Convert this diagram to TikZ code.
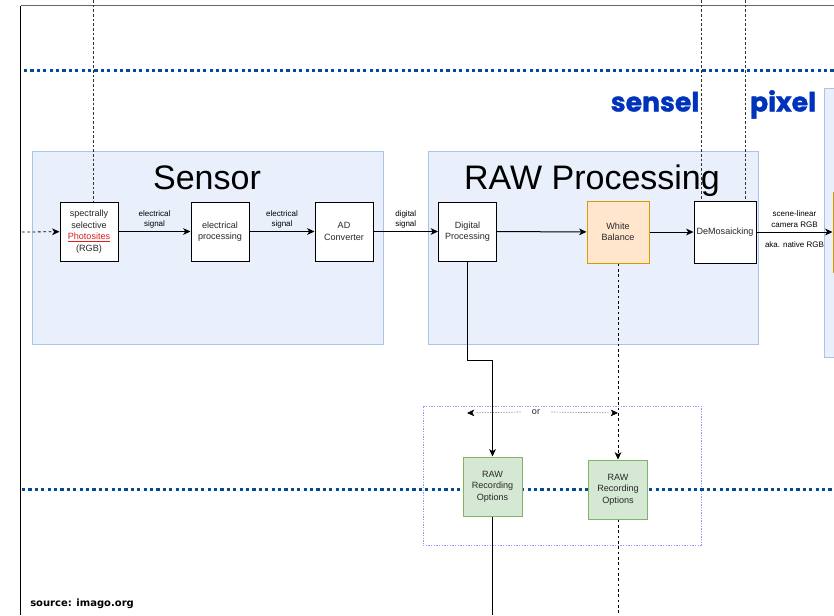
\documentclass[tikz,border=0pt]{standalone}
\usepackage{fontspec}
\setmainfont{Liberation Sans}
\newfontfamily\tagfont{Poppins}[BoldFeatures={FakeBold=1.2}]
\newfontfamily\srcfont{DejaVu Sans}
\usetikzlibrary{arrows.meta}
\definecolor{grpfill}{RGB}{233,240,251}
\definecolor{grpline}{RGB}{169,196,235}
\definecolor{sepblue}{RGB}{0,76,153}
\definecolor{tagblue}{RGB}{0,51,187}
\definecolor{linkred}{RGB}{220,30,30}
\definecolor{wbfill}{RGB}{255,230,204}
\definecolor{wbline}{RGB}{215,155,0}
\definecolor{recfill}{RGB}{213,232,212}
\definecolor{recline}{RGB}{130,179,102}
\definecolor{orline}{RGB}{153,153,255}
\definecolor{txt}{RGB}{40,40,40}
\tikzset{
  box/.style={draw,line width=0.75pt,fill=white,minimum width=43.5pt,
    minimum height=44.25pt,inner sep=1pt,align=center,text=txt,
    font=\fontsize{6.8}{8.6}\selectfont},
  wbbox/.style={box,fill=wbfill,draw=wbline,minimum size=46.5pt},
  recbox/.style={box,fill=recfill,draw=recline,minimum size=44.25pt},
  group/.style={draw=grpline,fill=grpfill,line width=0.75pt},
  title/.style={font=\fontsize{25.5}{28}\selectfont,anchor=base},
  lbl/.style={font=\fontsize{6}{7.9}\selectfont,align=center,inner sep=1pt},
  arr/.style={line width=0.75pt,-{Stealth[length=5.5pt,width=5pt,inset=1.5pt]}},
  dasharr/.style={arr,line width=0.6pt,dash pattern=on 2pt off 2pt},
  guide/.style={line width=0.6pt,dash pattern=on 2pt off 1.5pt,black!80},
  sep/.style={sepblue,line width=2.25pt,dash pattern=on 2.4pt off 2.4pt},
  tag/.style={tagblue,font=\tagfont\bfseries\fontsize{20}{22}\selectfont,anchor=base},
  source/.style={font=\srcfont\bfseries\fontsize{7.5}{9}\selectfont,anchor=base west,inner sep=0pt}
}
\begin{document}
\begin{tikzpicture}[x=0.75pt,y=-0.75pt]
  \clip (0,0) rectangle (834,615);
  % page frame
  \draw[black!60,line width=0.75pt] (20.5,5.5) -- (834,5.5);
  \draw[line width=0.75pt] (20.5,5.5) -- (20.5,615);
  % groups
  \node[group,minimum width=263.25pt,minimum height=144.75pt] (sg) at (207.5,247.5) {};
  \node[group,minimum width=247.5pt,minimum height=144.75pt] (rg) at (593,247.5) {};
  \node[group,minimum width=57pt,minimum height=201.75pt] (cg) at (862,222.5) {};
  \node[title] at (207,189) {Sensor};
  \node[title] at (592,189) {RAW Processing};
  \node[draw=orline,line width=0.5pt,dash pattern=on 1pt off 1pt,
    minimum width=208.5pt,minimum height=104.25pt] (og) at (562,475.5) {};
  % separators
  \draw[sep] (24,70) -- (834,70);
  \draw[sep] (22,489) -- (834,489);
  \node[tag] at (655,111.5) {sensel};
  \node[tag] at (783,111.5) {pixel};
  % nodes
  \node[box] (ph) at (89,231.5) {spectrally\\selective\\{\color{linkred}\underline{Photosites}}\\(RGB)};
  \node[box] (ep) at (220,231.5) {electrical\\processing};
  \node[box] (ad) at (344,231.5) {AD\\Converter};
  \node[box] (dp) at (467.5,231.5) {Digital\\Processing};
  \node[wbbox] (wb) at (618,232) {White\\Balance};
  \node[box,minimum size=46.5pt,inner sep=0pt] (dm) at (725,232) {DeMosaicking};
  \node[wbbox,minimum width=40.5pt,minimum height=60pt] (cs) at (860,232) {};
  \node[recbox] (r1) at (492.5,486.5) {RAW\\Recording\\Options};
  \node[recbox] (r2) at (618,489.5) {RAW\\Recording\\Options};
  \node[font=\fontsize{6.8}{8}\selectfont,text=txt,minimum width=22.5pt,inner sep=0pt] (or) at (536,412) {or};
  \node[source] (src) at (30,606) {source: imago.org};
  % free ends
  \coordinate (in) at (22,232);
  \coordinate (t1) at (93,0);
  \coordinate (t2) at (701,0);
  \coordinate (t3) at (745,0);
  \coordinate (bot) at (0,615);
  \coordinate (orl) at (467,413);
  \coordinate (orr) at (618,413);
  % guides
  \draw[guide] (t1) -- (t1 |- ph.north);
  \draw[guide] (t2) -- (t2 |- dm.north);
  \draw[guide] (t3) -- (t3 |- dm.north);
  % connectors
  \draw[dasharr] (in) -- (ph);
  \draw[arr] (ph) -- node[lbl,above=1pt] {electrical\\signal} (ep);
  \draw[arr] (ep) -- node[lbl,above=1pt] {electrical\\signal} (ad);
  \draw[arr] (ad) -- node[lbl,above=1pt] {digital\\signal} (dp);
  \draw[arr] (dp) -- (wb);
  \draw[arr] (wb) -- (dm);
  \draw[arr] (dm) -- node[lbl,above=2pt] {scene-linear\\camera RGB}
    node[lbl,below=6pt] {aka. native RGB} (cs);
  \draw[arr] (dp.south) -- ++(0,99) -| (r1.north);
  \draw[line width=0.75pt] (r1.south) -- (r1.south |- bot);
  \draw[dasharr] (wb.south) -- (r2.north);
  \draw[line width=0.6pt,dash pattern=on 2pt off 2pt] (r2.south) -- (r2.south |- bot);
  \begin{scope}[black!50,line width=0.5pt,dash pattern=on 1pt off 1pt]
    \draw[-{Stealth[length=5.5pt,width=5pt,inset=1.5pt,black]}] (or.west) -- (orl);
    \draw[-{Stealth[length=5.5pt,width=5pt,inset=1.5pt,black]}] (or.east) -- (orr);
  \end{scope}
\end{tikzpicture}
\end{document}
